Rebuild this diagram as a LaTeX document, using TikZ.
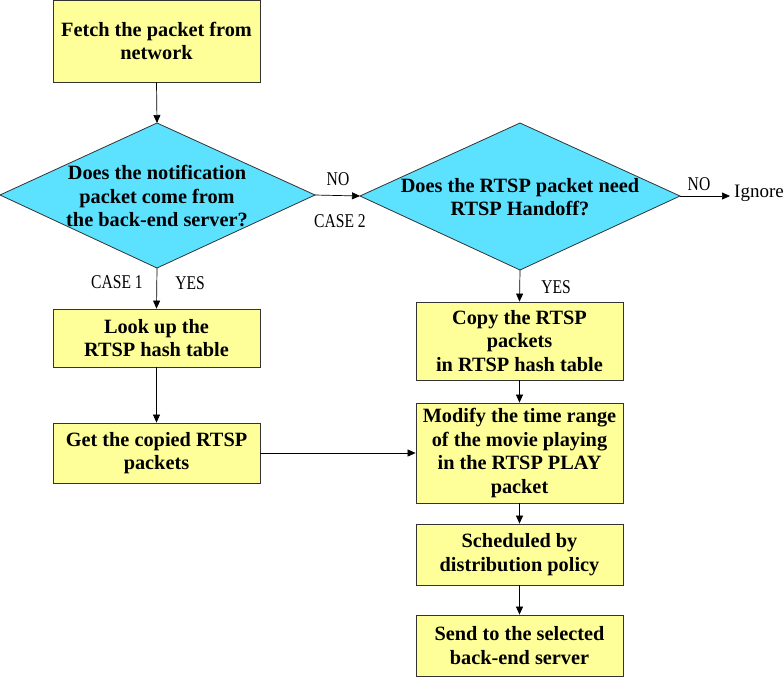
\documentclass[tikz,border=0pt]{standalone}
\usepackage{fontspec}
\setmainfont{Liberation Serif}
\newfontfamily\labelfont[FakeStretch=0.8]{Liberation Serif}
\usetikzlibrary{shapes.geometric,arrows.meta}
\definecolor{boxfill}{HTML}{FFFF99}
\definecolor{decfill}{HTML}{5CE1FF}
\definecolor{edge}{HTML}{333333}
\begin{document}
\begin{tikzpicture}[x=1pt,y=-1pt,
  txt/.style={font=\fontsize{20.3}{23.5}\selectfont\bfseries,align=center},
  procbox/.style={txt,draw=edge,line width=0.8pt,fill=boxfill,rectangle,
    minimum width=207pt,inner sep=0pt},
  decedge/.style={draw=edge,line width=0.8pt,fill=decfill},
  flow/.style={draw=black,line width=0.7pt,-{Triangle[length=8pt,width=7pt]}},
  tag/.style={font=\labelfont\fontsize{19.5}{21}\selectfont,inner sep=0pt}]
\useasboundingbox (0,0) rectangle (784,681);

% left column
\node[procbox,minimum height=82pt] (fetch) at (156.5,41) {Fetch the packet from\\network};
\path[decedge] (157,123) -- (315,195) -- (157,268) -- (0,195) -- cycle;
\coordinate (d1top) at (157,123);
\coordinate (d1right) at (315,195);
\coordinate (d1bot) at (157,268);
\node[txt] (q1) at (157,196)
  {Does the notification\\packet come from\\the back-end server?};
\node[procbox,minimum height=58pt] (lookup) at (156.5,338) {Look up the\\RTSP hash table};
\node[procbox,minimum height=60pt] (getcopy) at (156.5,453) {Get the copied RTSP\\packets};

% right column
\path[decedge] (520,123) -- (680,196) -- (520,270) -- (360,196) -- cycle;
\coordinate (d2left) at (360,196);
\coordinate (d2right) at (680,196);
\coordinate (d2bot) at (520,270);
\coordinate (ignoreend) at (730,196);
\node[txt] (q2) at (520,197) {Does the RTSP packet need\\RTSP Handoff?};
\node[font=\fontsize{19}{21}\selectfont,anchor=west,inner sep=0pt] (ignore) at (734,193) {Ignore};

\node[procbox,minimum height=78pt] (copy) at (519.5,341) {Copy the RTSP\\packets\\in RTSP hash table};
\node[procbox,minimum height=100pt] (modify) at (519.5,453) {Modify the time range\\of the movie playing\\in the RTSP PLAY\\packet};
\node[procbox,minimum height=61pt] (sched) at (519.5,554.5) {Scheduled by\\distribution policy};
\node[procbox,minimum height=61pt] (send) at (519.5,645.5) {Send to the selected\\back-end server};

% connectors
\draw[flow] (fetch.south) -- (d1top);
\draw[flow] (d1bot) -- (lookup.north);
\draw[flow] (lookup.south) -- (getcopy.north);
\draw[flow] (getcopy.east) -- (modify.west);
\draw[flow] (d1right) -- (d2left);
\draw[flow] (d2right) -- (ignoreend);
\draw[flow] (d2bot) -- (copy.north);
\draw[flow] (copy.south) -- (modify.north);
\draw[flow] (modify.south) -- (sched.north);
\draw[flow] (sched.south) -- (send.north);

% branch labels
\node[tag] (no1) at (338,179) {NO};
\node[tag] (case2) at (340,221) {CASE 2};
\node[tag] (no2) at (699,184) {NO};
\node[tag] (case1) at (117,282) {CASE 1};
\node[tag] (yes1) at (190,283) {YES};
\node[tag] (yes2) at (556,287) {YES};
\end{tikzpicture}
\end{document}
